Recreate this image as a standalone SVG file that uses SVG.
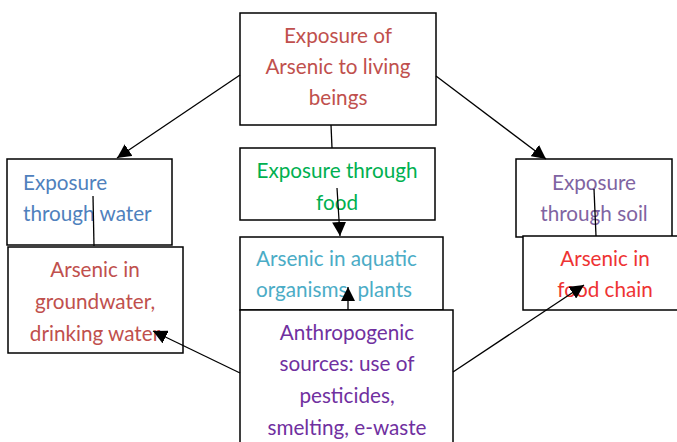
<svg xmlns="http://www.w3.org/2000/svg" width="677" height="442" viewBox="0 0 677 442">
  <style>
    .box { fill: #ffffff; stroke: #000000; stroke-width: 1.5; }
    .lbl { font-family: Lato, "Open Sans", "Liberation Sans", sans-serif; font-size: 20.7px; }
    .c { text-anchor: middle; }
    .conn { stroke: #000000; stroke-width: 1.3; fill: none; }
  </style>
  <defs>
    <marker id="arrowL" viewBox="0 0 10 10" refX="10" refY="5" markerWidth="14" markerHeight="14" markerUnits="userSpaceOnUse" orient="auto">
      <path d="M0,0 L10,5 L0,10 Z" fill="#000000"/>
    </marker>
  </defs>

  <rect width="677" height="442" fill="#ffffff"/>

  <g id="top">
    <rect class="box" x="240" y="13" width="196" height="112"/>
    <text class="lbl c" x="338" y="43" fill="#C0504D">Exposure of</text>
    <text class="lbl c" x="338" y="74" fill="#C0504D">Arsenic to living</text>
    <text class="lbl c" x="338" y="105" fill="#C0504D">beings</text>
  </g>

  <g id="food">
    <rect class="box" x="240" y="148" width="195" height="72"/>
    <text class="lbl c" x="337" y="178" fill="#00B050">Exposure through</text>
    <text class="lbl c" x="337" y="210" fill="#00B050">food</text>
  </g>

  <g id="water">
    <rect class="box" x="7" y="159" width="165" height="86"/>
    <text class="lbl" x="23" y="190" fill="#4F81BD">Exposure</text>
    <text class="lbl" x="23" y="221" fill="#4F81BD">through water</text>
  </g>

  <g id="groundwater">
    <rect class="box" x="8" y="247" width="175" height="106"/>
    <text class="lbl c" x="95" y="277" fill="#C0504D">Arsenic in</text>
    <text class="lbl c" x="95" y="309" fill="#C0504D">groundwater,</text>
    <text class="lbl c" x="95" y="341" fill="#C0504D">drinking water</text>
  </g>

  <g id="soil">
    <rect class="box" x="516" y="159" width="156" height="78"/>
    <text class="lbl c" x="594" y="190" fill="#8064A2">Exposure</text>
    <text class="lbl c" x="594" y="221" fill="#8064A2">through soil</text>
  </g>

  <g id="foodchain">
    <rect class="box" x="523" y="236" width="160" height="74"/>
    <text class="lbl c" x="605" y="266" fill="#EE3333">Arsenic in</text>
    <text class="lbl c" x="605" y="297" fill="#EE3333">food chain</text>
  </g>

  <g id="aquatic">
    <rect class="box" x="240" y="237" width="203" height="73"/>
    <text class="lbl" x="256" y="266" fill="#4BACC6">Arsenic in aquatic</text>
    <text class="lbl" x="256" y="297" fill="#4BACC6">organisms, plants</text>
  </g>

  <g id="anthropogenic">
    <rect class="box" x="240" y="310" width="213" height="140"/>
    <text class="lbl c" x="347" y="340" fill="#7030A0">Anthropogenic</text>
    <text class="lbl c" x="347" y="371" fill="#7030A0">sources: use of</text>
    <text class="lbl c" x="347" y="403" fill="#7030A0">pesticides,</text>
    <text class="lbl c" x="347" y="435" fill="#7030A0">smelting, e-waste</text>
  </g>

  <g id="connectors">
    <line class="conn" x1="240" y1="75" x2="117" y2="158" marker-end="url(#arrowL)"/>
    <line class="conn" x1="436" y1="76" x2="546" y2="159" marker-end="url(#arrowL)"/>
    <line class="conn" x1="331" y1="125" x2="332" y2="148"/>
    <line class="conn" x1="337" y1="188" x2="340" y2="236" marker-end="url(#arrowL)"/>
    <line class="conn" x1="93" y1="196" x2="94" y2="246"/>
    <line class="conn" x1="594" y1="189" x2="596" y2="236"/>
    <line class="conn" x1="348" y1="310" x2="348" y2="287" marker-end="url(#arrowL)"/>
    <line class="conn" x1="240" y1="373" x2="153" y2="331" marker-end="url(#arrowL)"/>
    <line class="conn" x1="453" y1="372" x2="584" y2="285" marker-end="url(#arrowL)"/>
  </g>
</svg>
